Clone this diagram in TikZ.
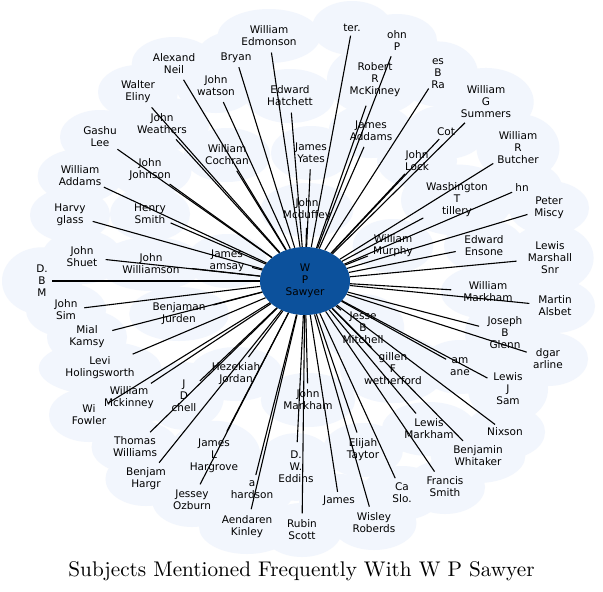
\documentclass[tikz,border=0pt]{standalone}
\usepackage{fontspec}
\usetikzlibrary{shapes.geometric,calc}
\newfontfamily\labelfont{DejaVu Sans}
\newfontfamily\titlefont{lmroman10-regular.otf}
\definecolor{cloudblue}{RGB}{242,246,253}
\definecolor{hubblue}{RGB}{12,81,156}
\pgfdeclarelayer{background}
\pgfsetlayers{background,main}

\begin{document}
\begin{tikzpicture}[x=1pt,y=-1pt,
    person node/.style={ellipse,inner sep=1.5pt,align=center,font=\labelfont\fontsize{10.5}{12}\selectfont},
    hub node/.style={ellipse,fill=hubblue,inner sep=0pt,minimum width=90pt,minimum height=68pt,align=center,font=\labelfont\fontsize{10.5}{12}\selectfont},
    title node/.style={font=\titlefont\fontsize{21.2}{24}\selectfont},
    spoke/.style={draw=black,line width=1.1pt}]
    \useasboundingbox (0,0) rectangle (603,592);

    \node[hub node] (sawyer) at (305,281) {W\\P\\Sawyer};

    % top
    \node[person node] (edmonson) at (269,36) {William\\Edmonson};
    \node[person node] (neil) at (174,64) {Alexand\\Neil};
    \node[person node] (bryan) at (236,58) {Bryan};
    \node[person node] (ter) at (352,28) {ter.};
    \node[person node] (johnp) at (397,41) {ohn\\P};
    \node[person node] (watson) at (216,86) {John\\watson};
    \node[person node] (eliny) at (138,92) {Walter\\Eliny};
    \node[person node] (hatchett) at (290,96) {Edward\\Hatchett};
    \node[person node] (rmckinney) at (375,80) {Robert\\R\\McKinney};
    \node[person node] (bra) at (438,74) {es\\B\\Ra};
    \node[person node] (summers) at (486,102) {William\\G\\Summers};
    \node[person node] (weathers) at (162,124) {John\\Weathers};
    \node[person node] (lee) at (100,137) {Gashu\\Lee};
    \node[person node] (jaddams) at (371,131) {James\\Addams};
    \node[person node] (cot) at (446,132) {Cot};
    \node[person node] (butcher) at (518,148) {William\\R\\Butcher};
    \node[person node] (cochran) at (227,155) {William\\Cochran};
    \node[person node] (yates) at (311,153) {James\\Yates};
    \node[person node] (lock) at (417,161) {John\\Lock};
    \node[person node] (johnson) at (150,170) {John\\Johnson};
    \node[person node] (waddams) at (80,176) {William\\Addams};

    % middle
    \node[person node] (tillery) at (457,200) {Washington\\T\\tillery};
    \node[person node] (hn) at (522,188) {hn};
    \node[person node] (miscy) at (549,208) {Peter\\Miscy};
    \node[person node] (glass) at (70,215) {Harvy\\glass};
    \node[person node] (hsmith) at (150,214) {Henry\\Smith};
    \node[person node] (mcduffey) at (307,210) {John\\Mcduffey};
    \node[person node] (murphy) at (393,246) {William\\Murphy};
    \node[person node] (ensone) at (484,246) {Edward\\Ensone};
    \node[person node] (marshall) at (550,258) {Lewis\\Marshall\\Snr};
    \node[person node] (ramsay) at (227,261) {James\\amsay};
    \node[person node] (shuet) at (82,257) {John\\Shuet};
    \node[person node] (williamson) at (151,264) {John\\Williamson};
    \node[person node] (dbm) at (42,281) {D.\\B\\M};
    \node[person node] (wmarkham) at (488,292) {William\\Markham};
    \node[person node] (alsbet) at (555,306) {Martin\\Alsbet};
    \node[person node] (simm) at (66,310) {John\\Sim};
    \node[person node] (jurden) at (179,314) {Benjaman\\Jurden};
    \node[person node] (jmitchell) at (363,328) {Jesse\\B\\Mitchell};
    \node[person node] (glenn) at (505,333) {Joseph\\B\\Glenn};
    \node[person node] (kamsy) at (87,337) {Mial\\Kamsy};

    % bottom
    \node[person node] (holingsworth) at (100,368) {Levi\\Holingsworth};
    \node[person node] (wetherford) at (393,369) {gillen\\F\\wetherford};
    \node[person node] (lane) at (460,367) {am\\ane};
    \node[person node] (carline) at (548,359) {dgar\\arline};
    \node[person node] (jordan) at (236,374) {Hezekiah\\Jordan};
    \node[person node] (dmitchell) at (184,396) {J\\D\\chell};
    \node[person node] (wmckinney) at (129,398) {William\\Mckinney};
    \node[person node] (jmarkham) at (308,400) {John\\Markham};
    \node[person node] (sam) at (508,389) {Lewis\\J\\Sam};
    \node[person node] (fowler) at (89,415) {Wi\\Fowler};
    \node[person node] (lmarkham) at (429,429) {Lewis\\Markham};
    \node[person node] (nixson) at (505,432) {Nixson};
    \node[person node] (twilliams) at (135,447) {Thomas\\Williams};
    \node[person node] (jhargrove) at (214,456) {James\\L\\Hargrove};
    \node[person node] (eddins) at (296,467) {D.\\W.\\Eddins};
    \node[person node] (taytor) at (363,450) {Elijah\\Taytor};
    \node[person node] (whitaker) at (478,456) {Benjamin\\Whitaker};
    \node[person node] (bhargr) at (146,479) {Benjam\\Hargr};
    \node[person node] (hardson) at (252,490) {a\\hardson};
    \node[person node] (slo) at (402,493) {Ca\\Slo.};
    \node[person node] (fsmith) at (445,487) {Francis\\Smith};
    \node[person node] (ozburn) at (192,500) {Jessey\\Ozburn};
    \node[person node] (james) at (339,501) {James};
    \node[person node] (kinley) at (247,527) {Aendaren\\Kinley};
    \node[person node] (scott) at (302,530) {Rubin\\Scott};
    \node[person node] (roberds) at (374,523) {Wisley\\Roberds};

    \node[title node] (caption) at (301.5,571) {Subjects Mentioned Frequently With W P Sawyer};

    % pale cloud behind every name
    \begin{pgfonlayer}{background}
        \fill[white] (0,0) rectangle (603,592);
        \foreach \who in {edmonson,neil,bryan,ter,johnp,watson,eliny,hatchett,rmckinney,bra,summers,weathers,lee,jaddams,cot,butcher,cochran,yates,lock,johnson,waddams,tillery,hn,miscy,glass,hsmith,mcduffey,murphy,ensone,marshall,ramsay,shuet,williamson,dbm,wmarkham,alsbet,simm,jurden,jmitchell,glenn,kamsy,holingsworth,wetherford,lane,carline,jordan,dmitchell,wmckinney,jmarkham,sam,fowler,lmarkham,nixson,twilliams,jhargrove,eddins,taytor,whitaker,bhargr,hardson,slo,fsmith,ozburn,james,kinley,scott,roberds}
            \fill[cloudblue] let \p1=(\who.center), \p2=(\who.east), \p3=(\who.north) in
                (\p1) ellipse [x radius={max(\x2-\x1,30pt)+10pt}, y radius={max(\y3-\y1,18pt)+9pt}];
    \end{pgfonlayer}

    \path[every edge/.style={spoke}]
        (sawyer) edge (edmonson) (sawyer) edge (neil) (sawyer) edge (bryan) (sawyer) edge (ter)
        (sawyer) edge (johnp) (sawyer) edge (watson) (sawyer) edge (eliny) (sawyer) edge (hatchett)
        (sawyer) edge (rmckinney) (sawyer) edge (bra) (sawyer) edge (summers) (sawyer) edge (weathers)
        (sawyer) edge (lee) (sawyer) edge (jaddams) (sawyer) edge (cot) (sawyer) edge (butcher)
        (sawyer) edge (cochran) (sawyer) edge (yates) (sawyer) edge (lock) (sawyer) edge (johnson)
        (sawyer) edge (waddams) (sawyer) edge (tillery) (sawyer) edge (hn) (sawyer) edge (miscy)
        (sawyer) edge (glass) (sawyer) edge (hsmith) (sawyer) edge (mcduffey) (sawyer) edge (murphy)
        (sawyer) edge (ensone) (sawyer) edge (marshall) (sawyer) edge (ramsay) (sawyer) edge (shuet)
        (sawyer) edge (williamson) (sawyer) edge (dbm) (sawyer) edge (wmarkham) (sawyer) edge (alsbet)
        (sawyer) edge (simm) (sawyer) edge (jurden) (sawyer) edge (jmitchell) (sawyer) edge (glenn)
        (sawyer) edge (kamsy) (sawyer) edge (holingsworth) (sawyer) edge (wetherford) (sawyer) edge (lane)
        (sawyer) edge (carline) (sawyer) edge (jordan) (sawyer) edge (dmitchell) (sawyer) edge (wmckinney)
        (sawyer) edge (jmarkham) (sawyer) edge (sam) (sawyer) edge (fowler) (sawyer) edge (lmarkham)
        (sawyer) edge (nixson) (sawyer) edge (twilliams) (sawyer) edge (jhargrove) (sawyer) edge (eddins)
        (sawyer) edge (taytor) (sawyer) edge (whitaker) (sawyer) edge (bhargr) (sawyer) edge (hardson)
        (sawyer) edge (slo) (sawyer) edge (fsmith) (sawyer) edge (ozburn) (sawyer) edge (james)
        (sawyer) edge (kinley) (sawyer) edge (scott) (sawyer) edge (roberds)
        ;
\end{tikzpicture}
\end{document}
